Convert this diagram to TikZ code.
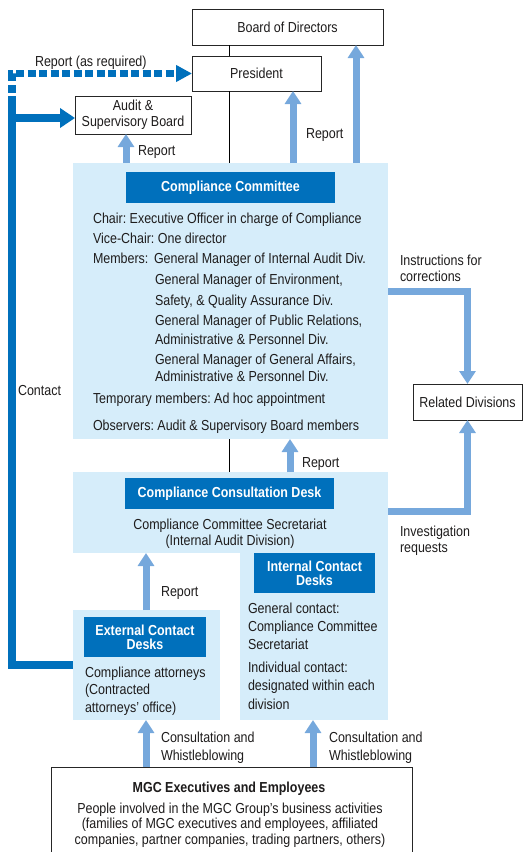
\documentclass[tikz,border=0pt]{standalone}
\usepackage{fontspec}
\setmainfont{Liberation Sans}[FakeStretch=0.86]
\usetikzlibrary{arrows.meta}
\definecolor{dblue}{RGB}{0,112,188}
\definecolor{lfill}{RGB}{214,237,250}
\definecolor{abl}{RGB}{118,168,220}
\definecolor{txt}{RGB}{30,28,28}
\frenchspacing
\begin{document}
\begin{tikzpicture}[x=1pt,y=-1pt,
  every node/.style={font=\fontsize{14.5}{16}\selectfont, text=txt, inner sep=0pt, outer sep=0pt},
  box/.style={draw=black!85, line width=0.8pt, fill=white, anchor=north west, align=center},
  region/.style={fill=lfill, anchor=north west},
  bar/.style={fill=dblue, anchor=north west, text=white, align=center, font=\fontsize{14.5}{14}\selectfont\bfseries},
  lbl/.style={anchor=base west},
  ctr/.style={anchor=base},
  up/.style={draw=abl, line width=7pt, line join=miter, -{Triangle[width=16pt,length=13pt]}},
  thin/.style={draw=black, line width=0.6pt},
  dk/.style={draw=dblue, line width=7.5pt, line join=miter},
]
\useasboundingbox (0,0) rectangle (523,852);

% top boxes
\node[box, minimum width=191pt, minimum height=36pt] (bod) at (192,9) {Board of Directors};
\node[box, minimum width=129pt, minimum height=35pt] (pres) at (192,56) {President};
\node[box, minimum width=116pt, minimum height=38pt] (aud) at (75,96) {Audit \&\\Supervisory Board};
\node[box, minimum width=109pt, minimum height=36pt] (rel) at (413,384) {Related Divisions};
\node[box, minimum width=361pt, minimum height=100pt] (emp) at (51,767) {};

% light regions
\node[region, minimum width=315pt, minimum height=276pt] (cc) at (73,163) {};
\node[region, minimum width=315pt, minimum height=81pt] (cdesk) at (73,472) {};
\node[region, minimum width=148pt, minimum height=167pt] (idesk) at (240,553) {};
\node[region, minimum width=147pt, minimum height=110pt] (edesk) at (73,610) {};

% title bars
\node[bar, minimum width=209pt, minimum height=31pt] (ccbar) at (126,172) {Compliance Committee};
\node[bar, minimum width=209pt, minimum height=31pt] (cdbar) at (125,478) {Compliance Consultation Desk};
\node[bar, minimum width=121pt, minimum height=40pt] (idbar) at (254,553) {Internal Contact\\Desks};
\node[bar, minimum width=122pt, minimum height=40pt] (edbar) at (84,617) {External Contact\\Desks};

% committee text
\node[lbl] (l1) at (93,223) {Chair: Executive Officer in charge of Compliance};
\node[lbl] (l2) at (93,243) {Vice-Chair: One director};
\node[lbl] (l3a) at (93,263) {Members:};
\node[lbl] (l3) at (154,263) {General Manager of Internal Audit Div.};
\node[lbl] (l4) at (155,284) {General Manager of Environment,};
\node[lbl] (l5) at (155,305) {Safety, \& Quality Assurance Div.};
\node[lbl] (l6) at (155,325) {General Manager of Public Relations,};
\node[lbl] (l7) at (155,344) {Administrative \& Personnel Div.};
\node[lbl] (l8) at (155,364) {General Manager of General Affairs,};
\node[lbl] (l9) at (155,381) {Administrative \& Personnel Div.};
\node[lbl] (l10) at (93,403) {Temporary members: Ad hoc appointment};
\node[lbl] (l11) at (93,430) {Observers: Audit \& Supervisory Board members};

% consultation desk text
\node[ctr] (c1) at (230,529) {Compliance Committee Secretariat};
\node[ctr] (c2) at (230,545) {(Internal Audit Division)};

% internal desk text
\node[lbl] (i1) at (248,613) {General contact:};
\node[lbl] (i2) at (248,631) {Compliance Committee};
\node[lbl] (i3) at (248,649) {Secretariat};
\node[lbl] (i4) at (248,672) {Individual contact:};
\node[lbl] (i5) at (248,690) {designated within each};
\node[lbl] (i6) at (248,709) {division};

% external desk text
\node[lbl] (e1) at (85,677) {Compliance attorneys};
\node[lbl] (e2) at (85,694) {(Contracted};
\node[lbl] (e3) at (85,712) {attorneys’ office)};

% employees text
\node[ctr, font=\fontsize{14.5}{16}\selectfont\bfseries] (b0) at (229,792) {MGC Executives and Employees};
\node[ctr] (b1) at (230,813) {People involved in the MGC Group’s business activities};
\node[ctr] (b2) at (230,828) {(families of MGC executives and employees, affiliated};
\node[ctr] (b3) at (230,844) {companies, partner companies, trading partners, others)};

% labels
\node[lbl] (t1) at (35,66) {Report (as required)};
\node[lbl] (t2) at (138,155) {Report};
\node[lbl] (t3) at (306,138) {Report};
\node[lbl] (t4) at (400,265) {Instructions for};
\node[lbl] (t5) at (400,281) {corrections};
\node[lbl] (t6) at (18,395) {Contact};
\node[lbl] (t7) at (302,467) {Report};
\node[lbl] (t8) at (400,536) {Investigation};
\node[lbl] (t9) at (400,552) {requests};
\node[lbl] (t10) at (161,596) {Report};
\node[lbl] (t11) at (161,742) {Consultation and};
\node[lbl] (t12) at (161,760) {Whistleblowing};
\node[lbl] (t13) at (329,742) {Consultation and};
\node[lbl] (t14) at (329,760) {Whistleblowing};

% thin lines
\draw[thin] (bod.south -| 229,0) -- (pres.north -| 229,0);
\draw[thin] (pres.south -| 229,0) -- (cc.north -| 229,0);
\draw[thin] (cc.south -| 229,0) -- (cdesk.north -| 229,0);

% light blue arrows
\draw[up] (cc.north -| 126,0) -- (aud.south -| 126,0);
\draw[up] (cc.north -| 293,0) -- (pres.south -| 293,0);
\draw[up] (cc.north -| 356,0) -- (bod.south -| 356,0);
\draw[up] (cdesk.north -| 290,0) -- (cc.south -| 290,0);
\draw[up] (edesk.north -| 146,0) -- (cdesk.south -| 146,0);
\draw[up] (emp.north -| 146,0) -- (edesk.south -| 146,0);
\draw[up] (emp.north -| 313,0) -- (idesk.south -| 313,0);
\draw[up] (cc.east |- 0,291) -| (rel.north);
\draw[up] (cdesk.east |- 0,511) -| (rel.south);

% dark blue contact lines
\draw[dk] (edesk.west) -| (12,103);
\draw[dk, -{Triangle[width=19pt,length=15pt]}] (12,118) -- (aud.west |- 0,118);
\draw[dk, dash pattern=on 8pt off 3.5pt, -{Triangle[width=16pt,length=16pt]}] (12,104) |- (pres.west);
\end{tikzpicture}
\end{document}
